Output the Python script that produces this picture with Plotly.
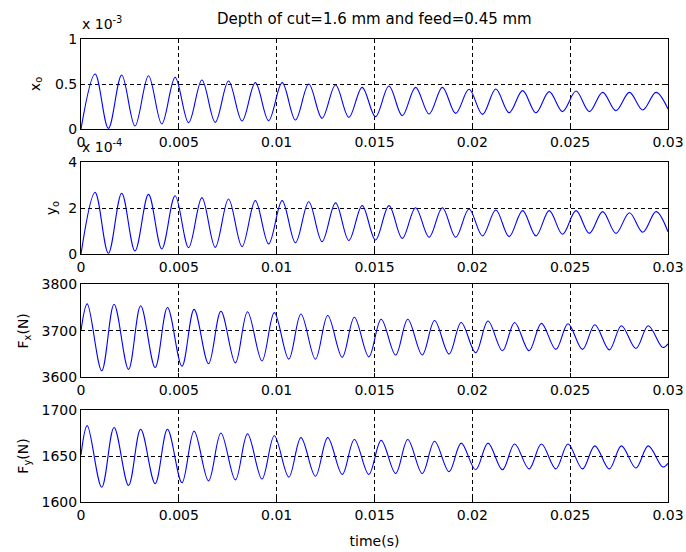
import plotly.graph_objects as go

# ---------------- data ----------------
# displacement signals: start, then alternating peak / trough times (s)
disp_start_t = 0.0
disp_end_t = 0.03
disp_peak_t = [0.00072, 0.00208, 0.00345, 0.00481, 0.00618, 0.00754, 0.00891,
               0.01028, 0.01164, 0.01301, 0.01437, 0.01574, 0.01710, 0.01847,
               0.01983, 0.02120, 0.02257, 0.02393, 0.02530, 0.02666, 0.02803,
               0.02939]
disp_trough_t = [0.00140, 0.00276, 0.00413, 0.00550, 0.00686, 0.00823, 0.00959,
                 0.01096, 0.01232, 0.01369, 0.01505, 0.01642, 0.01779, 0.01915,
                 0.02052, 0.02188, 0.02325, 0.02461, 0.02598, 0.02734, 0.02871]

# x_o (units of 1e-3)
xo_start = 0.0
xo_peaks = [0.611, 0.600, 0.592, 0.574, 0.544, 0.533, 0.515, 0.515, 0.500, 0.489,
            0.463, 0.478, 0.463, 0.463, 0.441, 0.444, 0.426, 0.415, 0.422, 0.407,
            0.407, 0.407]
xo_troughs = [0.007, 0.033, 0.056, 0.070, 0.074, 0.089, 0.093, 0.100, 0.119, 0.130,
              0.137, 0.148, 0.167, 0.174, 0.163, 0.181, 0.181, 0.193, 0.193, 0.204,
              0.211]
xo_end = 0.222

# y_o (units of 1e-4)
yo_start = 0.0
yo_peaks = [2.69, 2.65, 2.60, 2.54, 2.46, 2.40, 2.33, 2.33, 2.28, 2.23, 2.11, 2.11,
            2.02, 2.02, 1.96, 1.92, 1.89, 1.89, 1.89, 1.85, 1.80, 1.85]
yo_troughs = [0.03, 0.13, 0.22, 0.28, 0.29, 0.32, 0.44, 0.49, 0.54, 0.59, 0.61,
              0.68, 0.73, 0.73, 0.79, 0.76, 0.79, 0.86, 0.90, 0.90, 0.95]
yo_end = 0.97

# force signals: start, alternating peak / trough times (s)
force_start_t = 0.0
force_end_t = 0.03
force_peak_t = [0.00032, 0.00169, 0.00305, 0.00442, 0.00578, 0.00715, 0.00851,
                0.00988, 0.01124, 0.01261, 0.01397, 0.01534, 0.01670, 0.01807,
                0.01943, 0.02080, 0.02216, 0.02353, 0.02489, 0.02626, 0.02762,
                0.02899]
force_trough_t = [0.00106, 0.00243, 0.00379, 0.00516, 0.00652, 0.00789, 0.00925,
                  0.01062, 0.01198, 0.01335, 0.01471, 0.01608, 0.01744, 0.01881,
                  0.02017, 0.02154, 0.02290, 0.02427, 0.02563, 0.02700, 0.02836,
                  0.02973]

# F_x (N)
fx_start = 3700
fx_peaks = [3758, 3757, 3754, 3750, 3746, 3742, 3741, 3739, 3736, 3733, 3729,
            3725, 3725, 3722, 3718, 3721, 3718, 3716, 3715, 3713, 3711, 3711]
fx_troughs = [3614, 3617, 3621, 3624, 3629, 3631, 3635, 3639, 3639, 3643, 3644,
              3648, 3648, 3650, 3653, 3657, 3657, 3660, 3660, 3659, 3662, 3664]
fx_end = 3672

# F_y (N)
fy_start = 1651
fy_peaks = [1683, 1681, 1679, 1679, 1677, 1675, 1674, 1672, 1670, 1670, 1668,
            1667, 1668, 1666, 1664, 1664, 1663, 1663, 1663, 1661, 1661, 1661]
fy_troughs = [1616, 1618, 1620, 1621, 1623, 1624, 1625, 1627, 1628, 1630, 1630,
              1631, 1631, 1633, 1635, 1635, 1636, 1636, 1636, 1636, 1637, 1638]
fy_end = 1642

x_tickvals = [0, 0.005, 0.01, 0.015, 0.02, 0.025, 0.03]
x_ticktext = ["0", "0.005", "0.01", "0.015", "0.02", "0.025", "0.03"]

xo_ticks = [0, 0.5, 1]
yo_ticks = [0, 2, 4]
fx_ticks = [3600, 3700, 3800]
fy_ticks = [1600, 1650, 1700]

title_text = "Depth of cut=1.6 mm and feed=0.45 mm"


def series(t0, v0, tp, vp, tt, vt, t1, v1):
    """interleave start, peaks, troughs and end point in time order"""
    pts = [(t0, v0)] + list(zip(tp, vp)) + list(zip(tt, vt)) + [(t1, v1)]
    pts.sort(key=lambda p: p[0])
    return [p[0] for p in pts], [p[1] for p in pts]


t_xo, v_xo = series(disp_start_t, xo_start, disp_peak_t, xo_peaks,
                    disp_trough_t, xo_troughs, disp_end_t, xo_end)
t_yo, v_yo = series(disp_start_t, yo_start, disp_peak_t, yo_peaks,
                    disp_trough_t, yo_troughs, disp_end_t, yo_end)
t_fx, v_fx = series(force_start_t, fx_start, force_peak_t, fx_peaks,
                    force_trough_t, fx_troughs, force_end_t, fx_end)
t_fy, v_fy = series(force_start_t, fy_start, force_peak_t, fy_peaks,
                    force_trough_t, fy_troughs, force_end_t, fy_end)

FONT = "DejaVu Sans, Arial, sans-serif"
FS = 14

fig = go.Figure()
line = dict(color="#0000FF", width=1.1, shape="spline", smoothing=1.0)
for i, (t, v) in enumerate([(t_xo, v_xo), (t_yo, v_yo), (t_fx, v_fx), (t_fy, v_fy)]):
    n = "" if i == 0 else str(i + 1)
    fig.add_trace(go.Scatter(x=t, y=v, mode="lines", line=line,
                             xaxis="x" + n, yaxis="y" + n,
                             showlegend=False, hoverinfo="skip"))

H_TOP, H_BOT = 39, 50
PH = 552 - H_TOP - H_BOT


def dom(top_px, bot_px):
    base = 552 - H_BOT
    return [(base - bot_px) / PH, (base - top_px) / PH]


def py(px):
    return (552 - H_BOT - px) / PH


domains = [dom(39, 129), dom(162.3, 254), dom(284.3, 377.3), dom(410, 502)]
yticks = [xo_ticks, yo_ticks, fx_ticks, fy_ticks]
ytitles = ["x<sub>o</sub>", "y<sub>o</sub>", "F<sub>x</sub>(N)", "F<sub>y</sub>(N)"]
ystandoff = [11, 8, 9, 9]

common = dict(showline=True, linecolor="black", linewidth=1, mirror="ticks",
              ticks="inside", ticklen=4, tickcolor="black", tickwidth=1,
              showgrid=True, gridcolor="black", gridwidth=1, griddash="4px,3px",
              zeroline=False, automargin=False,
              tickfont=dict(family=FONT, size=FS, color="black"))

layout = dict(width=686, height=552, plot_bgcolor="white", paper_bgcolor="white",
              margin=dict(l=81, r=18, t=H_TOP, b=H_BOT),
              font=dict(family=FONT, size=FS, color="black"))

for i in range(4):
    n = "" if i == 0 else str(i + 1)
    xa = dict(common, domain=[0, 1], range=[0, 0.03], tickmode="array",
              tickvals=x_tickvals, ticktext=x_ticktext, anchor="y" + n)
    if i == 3:
        xa["title"] = dict(text="time(s)", font=dict(family=FONT, size=FS), standoff=14)
    ya = dict(common, domain=domains[i], range=[yticks[i][0], yticks[i][-1]],
              tickmode="array", tickvals=yticks[i], anchor="x" + n,
              title=dict(text=ytitles[i], font=dict(family=FONT, size=FS),
                         standoff=ystandoff[i]))
    layout["xaxis" + n] = xa
    layout["yaxis" + n] = ya

layout["annotations"] = [
    dict(text=title_text, xref="paper", yref="paper", x=0.5, xanchor="center",
         y=py(19), yanchor="middle", showarrow=False,
         font=dict(family=FONT, size=15)),
    dict(text="x 10<sup>-3</sup>", xref="paper", yref="paper", x=0, xanchor="left",
         y=py(33), yanchor="bottom", showarrow=False, borderpad=0,
         font=dict(family=FONT, size=FS)),
    dict(text="x 10<sup>-4</sup>", xref="paper", yref="paper", x=0, xanchor="left",
         y=py(156), yanchor="bottom", showarrow=False, borderpad=0,
         font=dict(family=FONT, size=FS)),
]

fig.update_layout(**layout)
fig.write_html("out.html")
